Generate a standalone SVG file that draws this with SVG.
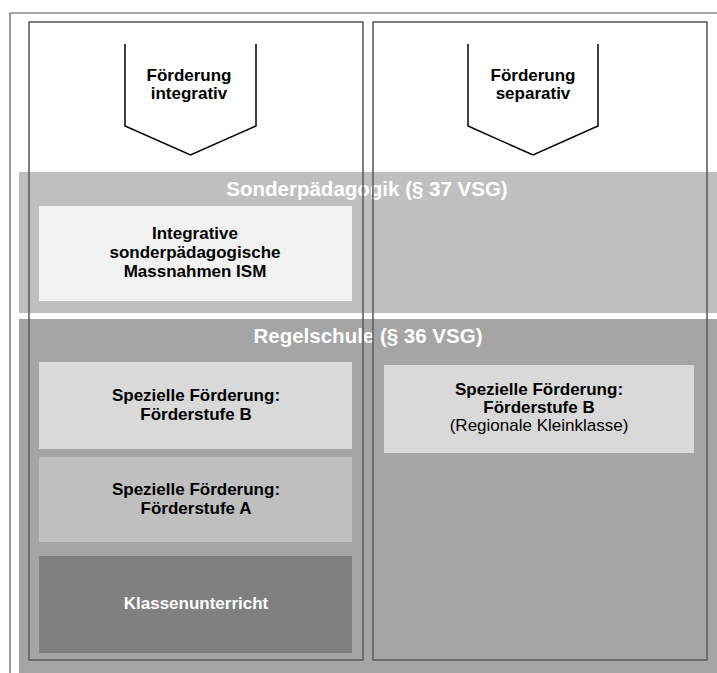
<svg xmlns="http://www.w3.org/2000/svg" width="717" height="673" viewBox="0 0 717 673">
<style>
text{font-family:"Liberation Sans",Arial,sans-serif;text-anchor:middle}
.b{font-weight:bold;font-size:17px;fill:#000}
.r{font-size:17px;fill:#000}
.t{font-weight:bold;font-size:20.5px;fill:#fff}
.w{font-weight:bold;font-size:17px;fill:#fff}
.col{fill:none;stroke:#606060;stroke-width:1.6}
.arr{fill:none;stroke:#000;stroke-width:1.5}
</style>
<rect width="717" height="673" fill="#fff"/>
<g id="frame"><path d="M10,673 V13 H717" fill="none" stroke="#555" stroke-width="1.2"/></g>
<g id="band-sonder">
<rect x="19" y="172" width="698" height="141" fill="#bfbfbf"/>
<text class="t" x="367" y="196">Sonderpädagogik (§ 37 VSG)</text>
</g>
<g id="band-regel">
<rect x="19" y="319" width="698" height="354" fill="#a5a5a5"/>
<text class="t" x="368" y="343">Regelschule (§ 36 VSG)</text>
</g>
<g id="ism">
<rect x="39" y="206" width="313" height="95" fill="#f2f2f2"/>
<text class="b" x="195" y="239">Integrative</text>
<text class="b" x="195" y="258">sonderpädagogische</text>
<text class="b" x="195" y="277">Massnahmen ISM</text>
</g>
<g id="stufeB-int">
<rect x="39" y="362" width="313" height="87" fill="#d9d9d9"/>
<text class="b" x="196" y="401">Spezielle Förderung:</text>
<text class="b" x="196" y="420">Förderstufe B</text>
</g>
<g id="stufeA-int">
<rect x="39" y="457" width="313" height="85" fill="#bfbfbf"/>
<text class="b" x="196" y="495">Spezielle Förderung:</text>
<text class="b" x="196" y="514">Förderstufe A</text>
</g>
<g id="klassen">
<rect x="39" y="556" width="313" height="97" fill="#808080"/>
<text class="w" x="196" y="609">Klassenunterricht</text>
</g>
<g id="stufeB-sep">
<rect x="384" y="365" width="310" height="88" fill="#d9d9d9"/>
<text class="b" x="539" y="395">Spezielle Förderung:</text>
<text class="b" x="539" y="413">Förderstufe B</text>
<text class="r" x="539" y="431">(Regionale Kleinklasse)</text>
</g>
<g id="col-integrativ">
<rect class="col" x="29" y="22" width="334" height="638"/>
<path class="arr" d="M125,44 V126 L190.5,155 L256,126 V44"/>
<text class="b" x="189" y="81">Förderung</text>
<text class="b" x="189" y="99">integrativ</text>
</g>
<g id="col-separativ">
<rect class="col" x="373" y="22" width="334" height="638"/>
<path class="arr" d="M468,44 V126 L533,155 L598,126 V44"/>
<text class="b" x="533" y="81">Förderung</text>
<text class="b" x="533" y="99">separativ</text>
</g>
<g id="connectors"></g>
</svg>
